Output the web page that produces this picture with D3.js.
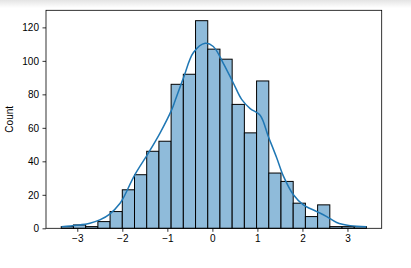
<!DOCTYPE html>
<html>
<head>
<meta charset="utf-8">
<script src="https://cdn.jsdelivr.net/npm/d3@7"></script>
<style>
  html, body { margin: 0; padding: 0; background: #fff; }
  svg { display: block; }
  text { font-family: "Liberation Sans", Arial, sans-serif; fill: #000; }
</style>
</head>
<body>
<svg id="chart" width="411" height="268"></svg>
<script>
// ---- data ----
const binStart = -3.356;
const binWidth = 0.2711;
const counts = [1, 2, 1, 4, 10, 23, 32, 46, 52, 86, 92, 124, 107, 101, 74, 57, 88, 33, 28, 15, 7, 14, 1, 1, 1];
const kdeX = [-3.35, -3.01, -2.72, -2.50, -2.28, -2.05, -1.98, -1.72, -1.42, -1.16, -0.90, -0.83, -0.64, -0.42, -0.16, 0.02, 0.24, 0.47, 0.65, 0.84, 1.06, 1.24, 1.43, 1.58, 1.80, 2.02, 2.32, 2.54, 2.76, 3.06, 3.42];
const kdeY = [1.0, 1.8, 3.0, 5.0, 8.5, 15, 18, 32, 45, 57, 71, 76, 90, 105, 110.5, 108.6, 98.7, 86.5, 77, 71.5, 67.5, 55, 42, 31, 20, 14, 10, 7, 3.5, 1.6, 1.0];
const xTicks = [-3, -2, -1, 0, 1, 2, 3];
const yTicks = [0, 20, 40, 60, 80, 100, 120];
const yLabel = "Count";

(function () {
  const svg = d3.select("#chart");
  const mLeft = 46, mRight = 381.7, mTop = 10.3, mBottom = 228.3;

  // top shadow band of screenshot
  const defs = svg.append("defs");
  const grad = defs.append("linearGradient").attr("id", "shade").attr("x1", 0).attr("y1", 0).attr("x2", 0).attr("y2", 1);
  grad.append("stop").attr("offset", "0%").attr("stop-color", "#e4e4e4");
  grad.append("stop").attr("offset", "100%").attr("stop-color", "#ffffff");
  svg.append("rect").attr("x", 0).attr("y", 0).attr("width", 411).attr("height", 8).attr("fill", "url(#shade)");

  const bins = counts.map((c, i) => ({ x0: binStart + i * binWidth, x1: binStart + (i + 1) * binWidth, c }));
  const dataMin = bins[0].x0, dataMax = bins[bins.length - 1].x1;
  const pad = (dataMax - dataMin) * 0.05;

  const x = d3.scaleLinear().domain([dataMin - pad, dataMax + pad]).range([mLeft, mRight]);
  const y = d3.scaleLinear().domain([0, d3.max(counts) * 1.05]).range([mBottom, mTop]);

  // bars
  svg.append("g").selectAll("rect").data(bins).join("rect")
    .attr("x", d => x(d.x0))
    .attr("y", d => y(d.c))
    .attr("width", d => x(d.x1) - x(d.x0))
    .attr("height", d => y(0) - y(d.c))
    .attr("fill", "#8fbbda")
    .attr("stroke", "#000")
    .attr("stroke-width", 1);

  // kde
  const kde = kdeX.map((v, i) => [v, kdeY[i]]);
  svg.append("path").datum(kde)
    .attr("fill", "none")
    .attr("stroke", "#1f77b4")
    .attr("stroke-width", 1.5)
    .attr("d", d3.line().x(d => x(d[0])).y(d => y(d[1])).curve(d3.curveCatmullRom.alpha(0.5)));

  // axes
  const xAxis = svg.append("g").attr("transform", `translate(0,${mBottom})`)
    .call(d3.axisBottom(x).tickValues(xTicks).tickSize(3.5).tickPadding(3.5).tickSizeOuter(0).tickFormat(d3.format("d")));
  const yAxis = svg.append("g").attr("transform", `translate(${mLeft},0)`)
    .call(d3.axisLeft(y).tickValues(yTicks).tickSize(3.5).tickPadding(3.5).tickSizeOuter(0).tickFormat(d3.format("d")));
  [xAxis, yAxis].forEach(a => {
    a.select(".domain").remove();
    a.selectAll("line").attr("stroke", "#000").attr("stroke-width", 0.8);
    a.selectAll("text").attr("font-size", 10).attr("fill", "#000").style("font-family", '"Liberation Sans", Arial, sans-serif');
  });

  // frame
  svg.append("rect").attr("x", mLeft).attr("y", mTop).attr("width", mRight - mLeft).attr("height", mBottom - mTop)
    .attr("fill", "none").attr("stroke", "#000").attr("stroke-width", 0.8);

  // y label
  svg.append("text")
    .attr("transform", `translate(13,${(mTop + mBottom) / 2}) rotate(-90)`)
    .attr("text-anchor", "middle")
    .attr("font-size", 10)
    .text(yLabel);
})();
</script>
</body>
</html>
